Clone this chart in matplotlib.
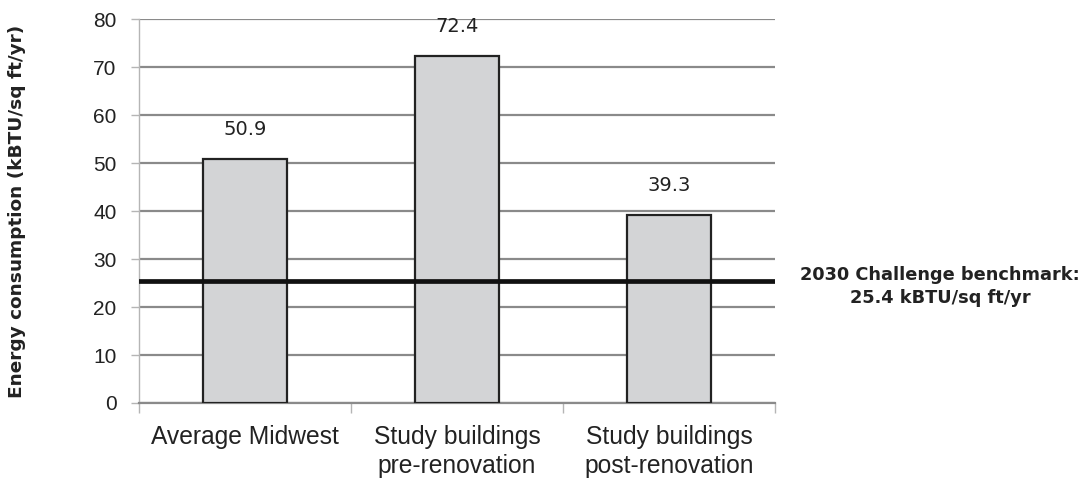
import matplotlib
matplotlib.use("Agg")
import matplotlib.pyplot as plt

categories = ["Average Midwest", "Study buildings\npre-renovation", "Study buildings\npost-renovation"]
values = [50.9, 72.4, 39.3]
benchmark = 25.4
benchmark_label = "2030 Challenge benchmark:\n25.4 kBTU/sq ft/yr"
y_label = "Energy consumption (kBTU/sq ft/yr)"
y_ticks = [0, 10, 20, 30, 40, 50, 60, 70, 80]

fig = plt.figure(figsize=(10.84, 4.79), dpi=100)
ax = fig.add_axes([0.1282, 0.1587, 0.5867, 0.8006])

x = list(range(len(categories)))
ax.bar(x, values, width=0.4, color="#d3d4d6", edgecolor="#222222", linewidth=1.6, zorder=3)

for xi, v in zip(x, values):
    ax.annotate(f"{v}", (xi, v), xytext=(0, 21), textcoords="offset points",
                ha="center", va="center", fontsize=14, family="DejaVu Sans", color="#222222")

ax.axhline(benchmark, color="#111111", linewidth=3.4, zorder=4)

ax.set_xlim(-0.5, 2.5)
ax.set_ylim(0, 80)
ax.set_yticks(y_ticks)
ax.yaxis.grid(True, color="#8a8a8a", linewidth=1.6, zorder=0)
ax.set_axisbelow(True)

ax.set_xticks([-0.5, 0.5, 1.5, 2.5], minor=False)
ax.set_xticklabels([])
ax.set_xticks(x, minor=True)
ax.set_xticklabels(categories, minor=True, fontsize=17.7, family="Liberation Sans", color="#222222",
                   linespacing=1.24)
ax.tick_params(axis="x", which="minor", length=0, pad=16)
ax.tick_params(axis="x", which="major", length=7, color="#b5b5b5", width=1)
ax.tick_params(axis="y", length=6, color="#b5b5b5", width=1, pad=10,
               labelsize=15, labelcolor="#222222")
for lbl in ax.get_yticklabels():
    lbl.set_family("Liberation Sans")

for side in ("top", "right"):
    ax.spines[side].set_visible(False)
ax.spines["left"].set_color("#b5b5b5")
ax.spines["left"].set_linewidth(1)
ax.spines["bottom"].set_color("#8a8a8a")
ax.spines["bottom"].set_linewidth(1.6)

fig.text(0.0157, 0.5587, y_label, rotation=90, ha="center", va="center",
         fontsize=13.3, fontweight="bold", family="DejaVu Sans", color="#222222")
fig.text(0.867, 0.402, benchmark_label, ha="center", va="center",
         fontsize=12.8, fontweight="bold", family="DejaVu Sans", color="#222222", linespacing=1.35)

fig.savefig("out.png", dpi=100)
